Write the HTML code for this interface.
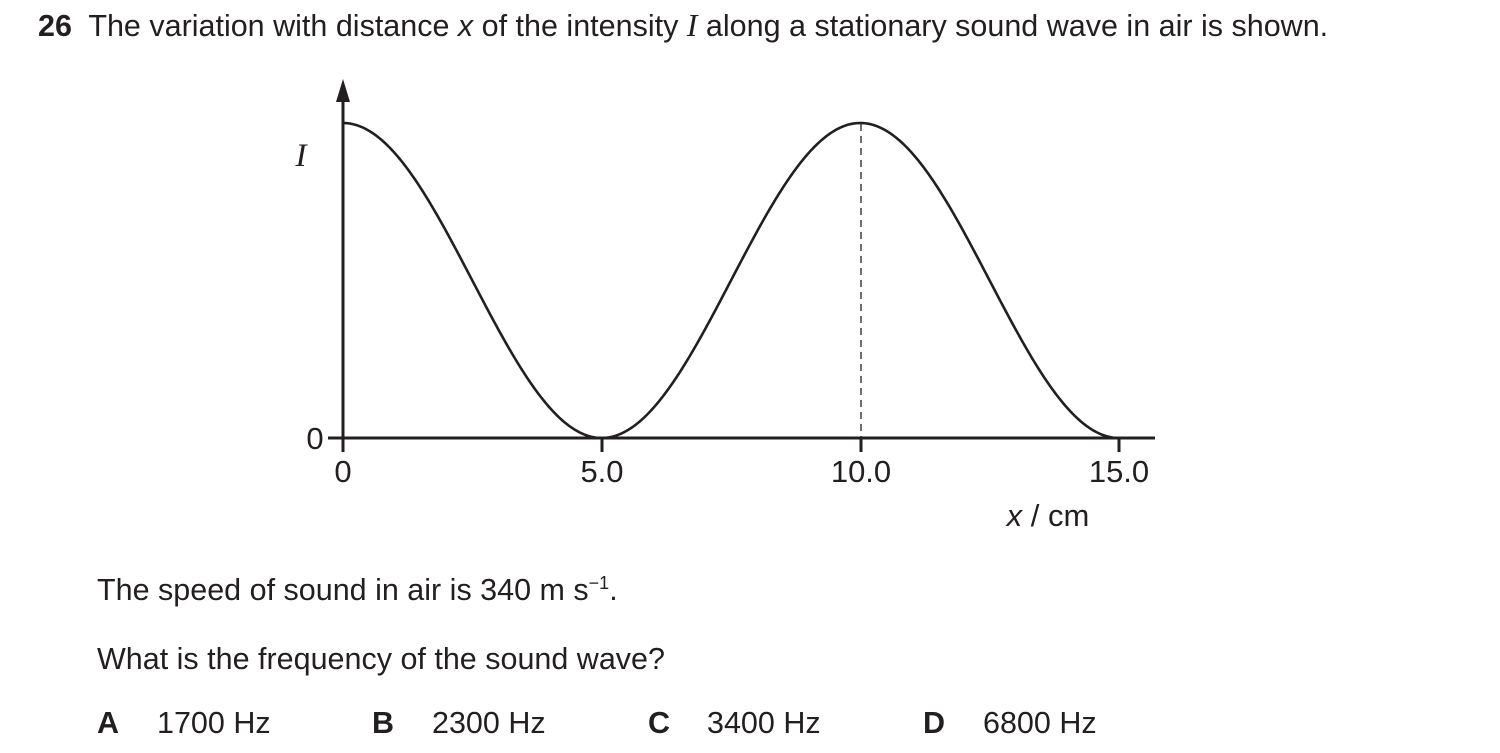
<!DOCTYPE html>
<html><head><meta charset="utf-8"><style>
body{margin:0;width:1500px;height:753px;background:#fff;overflow:hidden;position:relative;font-family:"Liberation Sans",Arial,sans-serif;color:#231f20}
.t{position:absolute;font-size:30.5px;white-space:nowrap;line-height:34px}
</style></head><body>
<div class="t" style="left:38px;top:8px"><b>26</b>&nbsp; The variation with distance <i>x</i> of the intensity <i style="font-family:'Liberation Serif',serif;font-size:32px">I</i> along a stationary sound wave in air is shown.</div>
<svg width="1500" height="753" style="position:absolute;left:0;top:0">
<g stroke="#231f20" fill="none">
<line x1="343" y1="98" x2="343" y2="452" stroke-width="3"/>
<line x1="328" y1="438" x2="1155" y2="438" stroke-width="3"/>
<line x1="602" y1="438" x2="602" y2="452" stroke-width="3"/>
<line x1="861" y1="438" x2="861" y2="452" stroke-width="3"/>
<line x1="1119" y1="438" x2="1119" y2="452" stroke-width="3"/>
<line x1="861" y1="124" x2="861" y2="438" stroke-width="1.3" stroke-dasharray="7,5"/>
<path id="c" stroke-width="2.6"/>
</g>
<polygon points="343,79 336,102 350,102" fill="#231f20"/>
<g font-family="Liberation Sans,Arial,sans-serif" font-size="31" fill="#231f20" text-anchor="middle">
<text x="315" y="449">0</text>
<text x="343" y="482">0</text>
<text x="602" y="482">5.0</text>
<text x="861" y="482">10.0</text>
<text x="1119" y="482">15.0</text>
<text x="1048" y="526"><tspan font-style="italic">x</tspan> / cm</text>
<text x="301" y="166" font-family="Liberation Serif,serif" font-style="italic" font-size="33">I</text>
</g>
</svg>
<div class="t" style="left:97px;top:566px">The speed of sound in air is 340 m s<sup style="font-size:18px">−1</sup>.</div>
<div class="t" style="left:97px;top:642px">What is the frequency of the sound wave?</div>
<div class="t" style="left:97px;top:706px"><b>A</b></div>
<div class="t" style="left:157px;top:706px">1700 Hz</div>
<div class="t" style="left:372px;top:706px"><b>B</b></div>
<div class="t" style="left:432px;top:706px">2300 Hz</div>
<div class="t" style="left:648px;top:706px"><b>C</b></div>
<div class="t" style="left:707px;top:706px">3400 Hz</div>
<div class="t" style="left:923px;top:706px"><b>D</b></div>
<div class="t" style="left:983px;top:706px">6800 Hz</div>
<script>
var d="";for(var i=0;i<=400;i++){var x=343+(1119-343)*i/400;var y=438-315*(1+Math.cos(2*Math.PI*(x-343)/517.3))/2;d+=(i?"L":"M")+x.toFixed(2)+","+y.toFixed(2);}
document.getElementById("c").setAttribute("d",d);
</script>
</body></html>
